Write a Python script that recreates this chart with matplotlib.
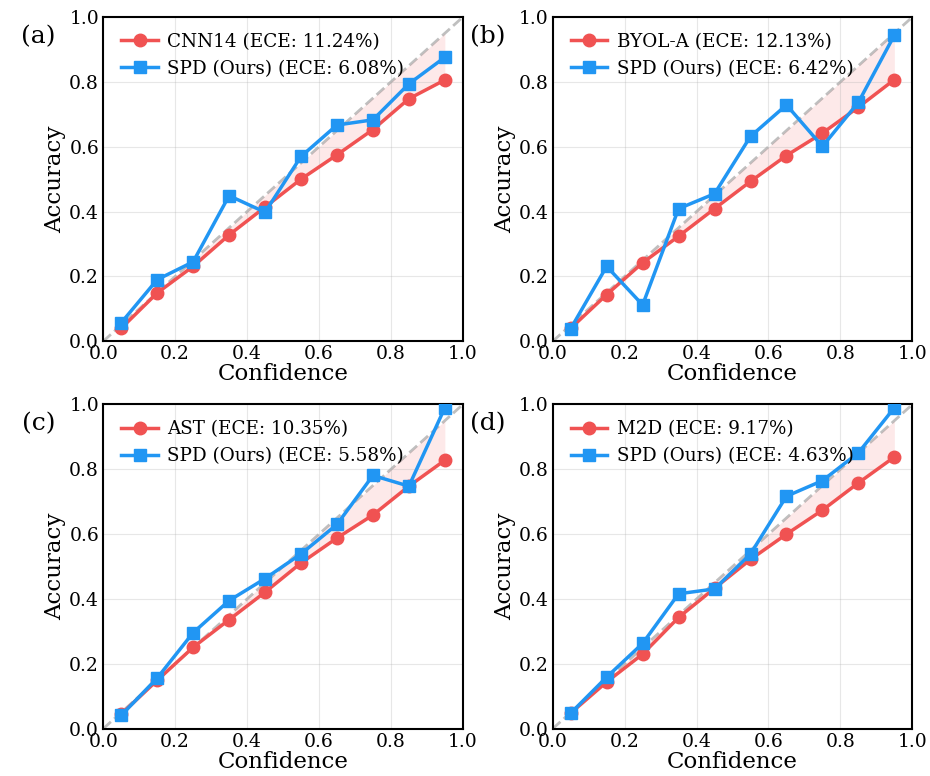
import numpy as np
import matplotlib
matplotlib.use('Agg')
import matplotlib.pyplot as plt

plt.rcParams['font.family'] = 'DejaVu Serif'

conf = [0.05, 0.15, 0.25, 0.35, 0.45, 0.55, 0.65, 0.75, 0.85, 0.95]

panel_tags = ['(a)', '(b)', '(c)', '(d)']
base_names = ['CNN14', 'BYOL-A', 'AST', 'M2D']
base_ece = [11.24, 12.13, 10.35, 9.17]
ours_ece = [6.08, 6.42, 5.58, 4.63]

base_acc = [
    [0.04, 0.149, 0.231, 0.328, 0.414, 0.50, 0.575, 0.653, 0.748, 0.806],
    [0.04, 0.144, 0.242, 0.324, 0.409, 0.493, 0.573, 0.642, 0.722, 0.807],
    [0.045, 0.149, 0.251, 0.336, 0.421, 0.511, 0.588, 0.659, 0.748, 0.828],
    [0.048, 0.144, 0.230, 0.343, 0.433, 0.522, 0.600, 0.674, 0.758, 0.838],
]
ours_acc = [
    [0.057, 0.190, 0.245, 0.449, 0.398, 0.570, 0.667, 0.683, 0.794, 0.876],
    [0.039, 0.231, 0.112, 0.409, 0.455, 0.632, 0.729, 0.601, 0.737, 0.944],
    [0.041, 0.156, 0.296, 0.395, 0.463, 0.539, 0.630, 0.781, 0.748, 0.990],
    [0.048, 0.159, 0.263, 0.416, 0.431, 0.539, 0.717, 0.765, 0.851, 0.990],
]

red = '#F05252'
blue = '#2196F3'

fig, axes = plt.subplots(2, 2, figsize=(9.3, 7.76), dpi=100)
plt.subplots_adjust(left=0.111, right=0.981, bottom=0.061, top=0.978,
                    wspace=0.25, hspace=0.195)

for i, ax in enumerate(axes.flat):
    ax.plot([0, 1], [0, 1], '--', color='gray', alpha=0.5, lw=2, zorder=1)
    ax.fill_between(conf, base_acc[i], conf, color=red, alpha=0.12, lw=0, zorder=1)
    ax.plot(conf, base_acc[i], '-o', color=red, lw=2.5, ms=9,
            label='%s (ECE: %.2f%%)' % (base_names[i], base_ece[i]), zorder=3)
    ax.plot(conf, ours_acc[i], '-s', color=blue, lw=2.5, ms=9,
            label='SPD (Ours) (ECE: %.2f%%)' % ours_ece[i], zorder=4)
    ax.set_xlim(0, 1)
    ax.set_ylim(0, 1)
    ax.set_xticks(np.arange(0, 1.01, 0.2))
    ax.set_yticks(np.arange(0, 1.01, 0.2))
    ax.tick_params(length=0, labelsize=13.5, pad=3)
    ax.grid(True, alpha=0.3, lw=0.8)
    for s in ax.spines.values():
        s.set_linewidth(1.5)
    ax.set_xlabel('Confidence', fontsize=16.5, labelpad=0)
    ax.set_ylabel('Accuracy', fontsize=16.5, labelpad=2)
    ax.legend(loc='upper left', bbox_to_anchor=(0.007, 1.0), frameon=False,
              fontsize=13.2, handlelength=2.0, handletextpad=0.5,
              borderaxespad=0.45)
    ax.text(-0.18, 0.94, panel_tags[i], transform=ax.transAxes,
            fontsize=18, ha='center', va='center')

plt.savefig('out.png')
